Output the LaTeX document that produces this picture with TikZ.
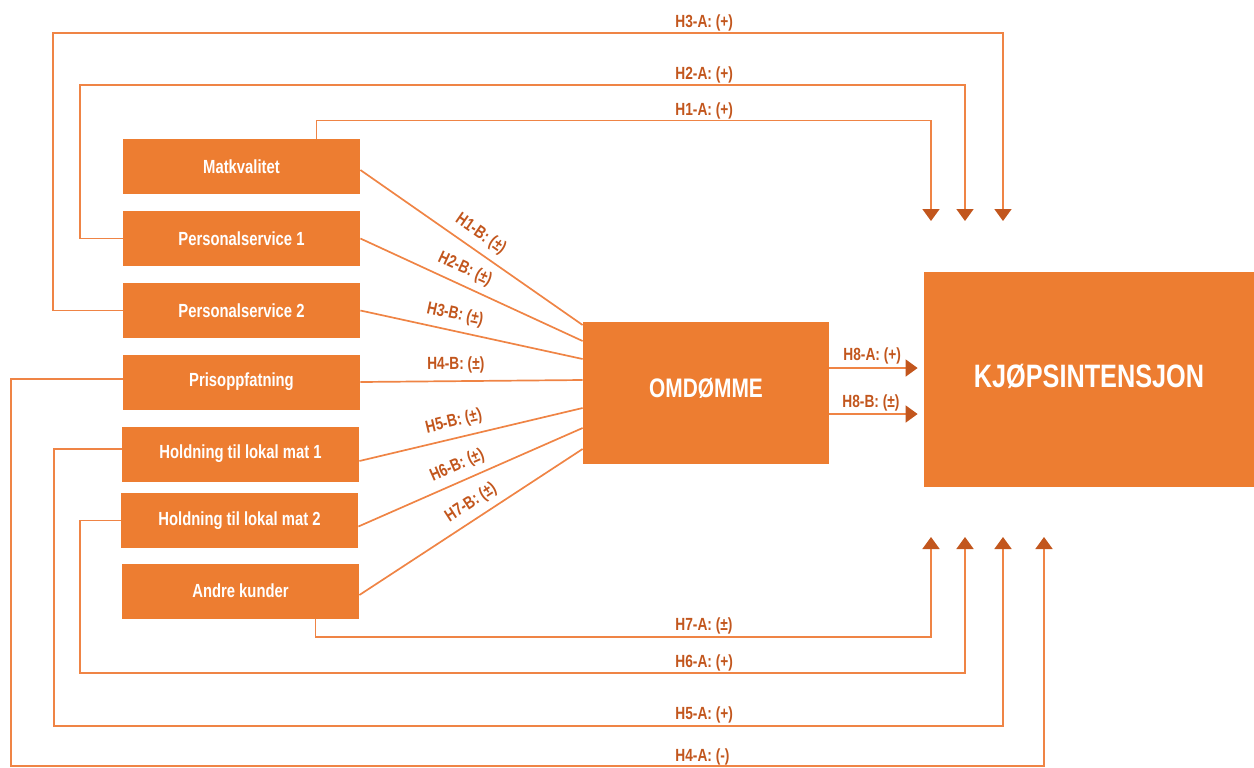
\documentclass[tikz,border=0pt]{standalone}
\usepackage{fontspec}
\setmainfont{Liberation Sans}
\newfontfamily\boxfont{Liberation Sans}[FakeStretch=0.78]
\usetikzlibrary{arrows.meta}
\definecolor{boxorange}{HTML}{ED7D31}
\definecolor{lineorange}{HTML}{EF8445}
\definecolor{darkorange}{HTML}{C2561D}

\begin{document}
\begin{tikzpicture}[x=0.5pt,y=-0.5pt]

\tikzset{box/.style = {rectangle, fill=boxorange, text=white, inner sep=0pt, minimum width=118.5pt, minimum height=27.5pt, font=\boxfont\bfseries\fontsize{9.5}{11}\selectfont}}
\tikzset{edge/.style = {draw=lineorange, line width=0.85pt}}
\tikzset{arr/.style = {edge, -{Triangle[width=8.5pt,length=6pt,color=darkorange]}}}
\tikzset{lbl/.style = {text=darkorange, inner sep=1pt, font=\boxfont\bfseries\fontsize{8.8}{10}\selectfont}}
\tikzset{slbl/.style = {lbl, sloped, inner sep=0pt, above=3.5pt}}

\useasboundingbox (0,0) rectangle (1254,767);

%boxes
\node[box] (mat) at (241.5,166.5) {Matkvalitet};
\node[box] (ps1) at (241.5,238.5) {Personalservice 1};
\node[box] (ps2) at (241.5,310.5) {Personalservice 2};
\node[box] (pris) at (241.5,382) {Prisoppfatning};
\node[box] (hold1) at (240.5,454) {Holdning til lokal mat 1};
\node[box] (hold2) at (239.5,520.5) {Holdning til lokal mat 2};
\node[box] (andre) at (240.5,591) {Andre kunder};
\node[box, minimum width=123pt, minimum height=71pt, text depth=5pt, font=\boxfont\bfseries\fontsize{13.4}{16}\selectfont] (omd) at (706,393) {OMDØMME};
\node[box, minimum width=165pt, minimum height=107.5pt, text depth=4pt, font=\boxfont\bfseries\fontsize{16.2}{19}\selectfont] (kjop) at (1089,379.5) {KJØPSINTENSJON};

%arrow ends
\coordinate (t1) at (931,221);
\coordinate (t2) at (965,221);
\coordinate (t3) at (1003,221);
\coordinate (b7) at (931,537);
\coordinate (b6) at (965,537);
\coordinate (b5) at (1003,537);
\coordinate (b4) at (1044,537);

%direct edges
\draw[arr] ([xshift=-22pt]mat.north east) -- ++(0,-18) -| (t1);
\draw[arr] (ps1.west) -| (80,85) -| (t2);
\draw[arr] (ps2.west) -| (53,33) -| (t3);
\draw[arr] ([yshift=1.5pt]pris.west) -| (11,766) -| (b4);
\draw[arr] ([yshift=2.5pt]hold1.west) -| (54,726) -| (b5);
\draw[arr] (hold2.west) -| (80,673) -| (b6);
\draw[arr] ([xshift=-22pt]andre.south east) -- ++(0,18) -| (b7);
\node[lbl, anchor=base west] (h1a) at (673,115) {H1-A: (+)};
\node[lbl, anchor=base west] (h2a) at (673,79) {H2-A: (+)};
\node[lbl, anchor=base west] (h3a) at (673,27) {H3-A: (+)};
\node[lbl, anchor=base west] (h4a) at (673,761) {H4-A: (-)};
\node[lbl, anchor=base west] (h5a) at (673,719) {H5-A: (+)};
\node[lbl, anchor=base west] (h6a) at (673,667) {H6-A: (+)};
\node[lbl, anchor=base west] (h7a) at (673,630) {H7-A: (±)};

%edges via omdomme
\draw[edge] ([yshift=-1.75pt]mat.east) -- ([yshift=34pt]omd.west) node[slbl, pos=0.5] (h1b) {H1-B: (±)};
\draw[edge] (ps1.east) -- ([yshift=26pt]omd.west) node[slbl, pos=0.44] (h2b) {H2-B: (±)};
\draw[edge] (ps2.east) -- ([yshift=17pt]omd.west) node[slbl, pos=0.41] (h3b) {H3-B: (±)};
\draw[edge] (pris.east) -- ([yshift=6.5pt]omd.west) node[slbl, pos=0.43] (h4b) {H4-B: (±)};
\draw[edge] ([yshift=-3.5pt]hold1.east) -- ([yshift=-7.5pt]omd.west) node[slbl, pos=0.44] (h5b) {H5-B: (±)};
\draw[edge] ([yshift=-3pt]hold2.east) -- ([yshift=-17.5pt]omd.west) node[slbl, pos=0.47] (h6b) {H6-B: (±)};
\draw[edge] ([yshift=-2pt]andre.east) -- ([yshift=-28pt]omd.west) node[slbl, pos=0.54] (h7b) {H7-B: (±)};

%omdomme to kjopsintensjon
\draw[arr, shorten >=3pt] ([yshift=12.5pt]omd.east) -- ([yshift=12.5pt]omd.east -| kjop.west);
\draw[arr, shorten >=3pt] ([yshift=-10.5pt]omd.east) -- ([yshift=-10.5pt]omd.east -| kjop.west);
\node[lbl, anchor=base west] (h8a) at (841,360) {H8-A: (+)};
\node[lbl, anchor=base west] (h8b) at (840,407) {H8-B: (±)};

\end{tikzpicture}
\end{document}
